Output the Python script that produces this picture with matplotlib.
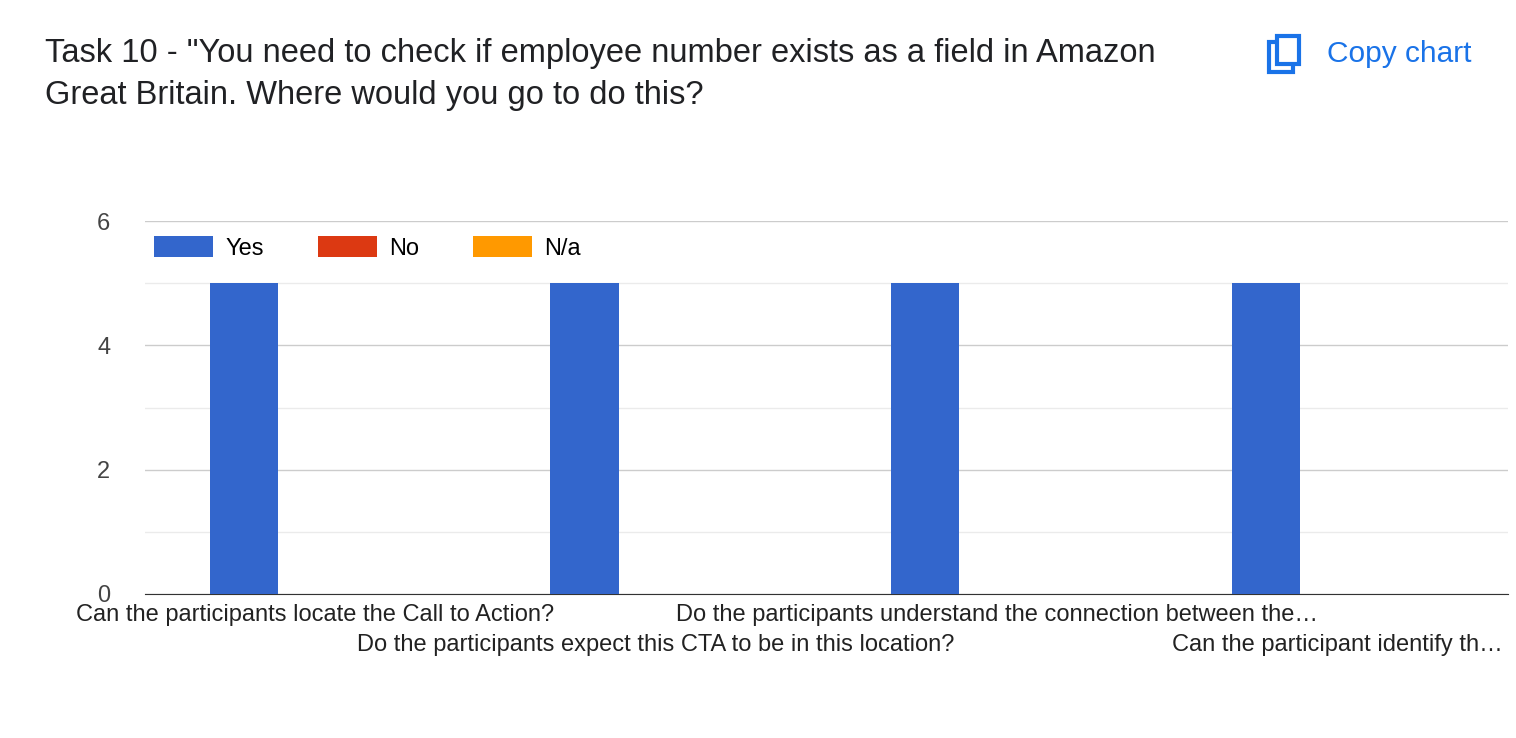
import numpy as np
import matplotlib.pyplot as plt
from matplotlib.patches import Rectangle

plt.rcParams['font.family'] = ['Liberation Sans', 'DejaVu Sans']

title = 'Task 10 - "You need to check if employee number exists as a field in Amazon\nGreat Britain. Where would you go to do this?'
categories = ['Can the participants locate the Call to Action?',
              'Do the participants expect this CTA to be in this location?',
              'Do the participants understand the connection between the\u2026',
              'Can the participant identify th\u2026']
series = ['Yes', 'No', 'N/a']
colors = ['#3366cc', '#dc3912', '#ff9900']
yes_vals = [5, 5, 5, 5]
no_vals = [0, 0, 0, 0]
na_vals = [0, 0, 0, 0]

W, H = 1516, 738
fig = plt.figure(figsize=(W / 100, H / 100), dpi=100)
ax = fig.add_axes([145 / W, 1 - 594 / H, (1508 - 145) / W, (594 - 221) / H])

x = np.arange(len(categories))
for i, (vals, c, name) in enumerate(zip([yes_vals, no_vals, na_vals], colors, series)):
    ax.bar(x + (i - 1) * 0.2 - 0.01, vals, width=0.2, color=c, label=name, zorder=3)

ax.set_xlim(-0.5, 3.5)
ax.set_ylim(0, 6)
ax.set_yticks([0, 2, 4, 6])
ax.set_yticks([1, 3, 5], minor=True)
ax.grid(axis='y', which='major', color='#cccccc', lw=1, zorder=0)
ax.grid(axis='y', which='minor', color='#ebebeb', lw=1, zorder=0)
ax.tick_params(axis='y', which='both', length=0, labelsize=17, labelcolor='#444444', pad=25)
ax.tick_params(axis='x', length=0, labelbottom=False)
for s in ['top', 'right', 'left']:
    ax.spines[s].set_visible(False)
ax.spines['bottom'].set_color('#333333')

for i, lab in enumerate(categories):
    y = -0.33 if i % 2 == 0 else -0.82
    ax.text(i, y, lab, ha='center', va='center', fontsize=17, color='#222222')

ax.legend(loc='upper left', bbox_to_anchor=(0, 0.985), ncol=3, frameon=False,
          fontsize=17, handlelength=2.5, handleheight=1.0, columnspacing=2.3,
          borderaxespad=0, handletextpad=0.5)

fig.text(45 / W, 1 - 38 / H, title, ha='left', va='top', fontsize=23.5,
         color='#202124', linespacing=1.45)

# copy icon
icol = '#1a73e8'
fig.patches.append(Rectangle((1269 / W, 1 - 72 / H), 24 / W, 30 / H, fill=False,
                             ec=icol, lw=3, transform=fig.transFigure))
fig.patches.append(Rectangle((1277 / W, 1 - 64 / H), 22 / W, 28 / H, fc='white',
                             ec=icol, lw=3, transform=fig.transFigure))
fig.text(1327 / W, 1 - 54 / H, 'Copy chart', ha='left', va='center', fontsize=21.5,
         color=icol)

fig.savefig('out.png', dpi=100)
